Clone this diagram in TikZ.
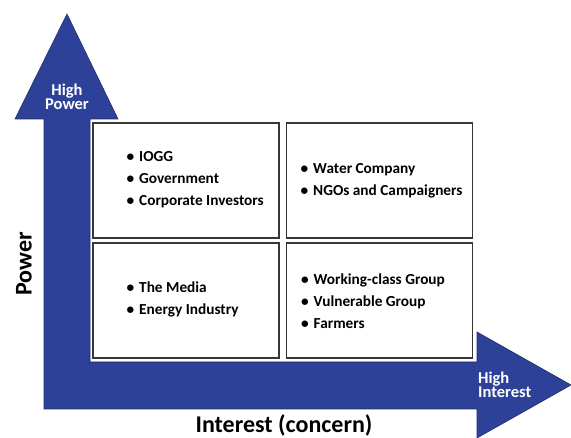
\documentclass[tikz,border=0pt]{standalone}
\usepackage{fontspec}
\setmainfont{Carlito}
\definecolor{arrowblue}{RGB}{45,65,152}
\definecolor{boxline}{RGB}{55,55,55}
\newcommand\bul{\makebox[12.5pt][l]{\textbullet}}
\begin{document}
\begin{tikzpicture}[x=1pt,y=-1pt,
  quad/.style={draw=boxline, line width=1.3pt, fill=white,
    preaction={draw=white, line width=5pt},
    minimum width=186pt, minimum height=115pt, inner sep=0pt},
  items/.style={anchor=west, align=left, inner sep=0pt,
    font=\bfseries\fontsize{15.3}{22}\selectfont},
  hilabel/.style={text=white, inner sep=0pt,
    font=\bfseries\fontsize{16.5}{14.5}\selectfont},
  axislabel/.style={inner sep=0pt, font=\bfseries\fontsize{24}{28}\selectfont}
]
\useasboundingbox (0,0) rectangle (571,438);
\fill[arrowblue, draw=arrowblue!70!black, line width=0.6pt]
  (67,14) -- (118,119) -- (90,119) -- (90,362) -- (477,362) -- (477,332)
  -- (571,385) -- (477,438) -- (477,409) -- (44,409) -- (44,119)
  -- (15,119) -- cycle;
\node[quad] (tl) at (186,180.5) {};
\node[quad] (tr) at (379.5,180.5) {};
\node[quad] (bl) at (186,300.5) {};
\node[quad] (br) at (379.5,300.5) {};
\node[items] (tlt) at (126.5,180) {\bul IOGG\\\bul Government\\\bul Corporate Investors};
\node[items] (trt) at (300.5,180.5) {\bul Water Company\\\bul NGOs and Campaigners};
\node[items] (blt) at (126.5,299.5) {\bul The Media\\\bul Energy Industry};
\node[items] (brt) at (301,301) {\bul Working-class Group\\\bul Vulnerable Group\\\bul Farmers};
\node[hilabel, align=center] (hp) at (67,97) {High\\Power};
\node[hilabel, align=left, anchor=west] (hi) at (478,385) {High\\Interest};
\node[axislabel, rotate=90] (pw) at (24,264) {Power};
\node[axislabel] (ic) at (284,425) {Interest (concern)};
\end{tikzpicture}
\end{document}
